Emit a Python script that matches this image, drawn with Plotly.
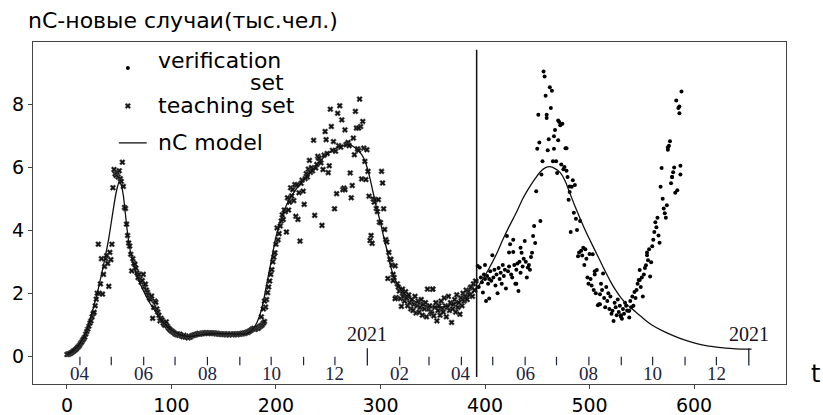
import plotly.graph_objects as go

# ---------------- data ----------------
# teaching set: one value per day, t = 0 .. 391
teach_y = [
    0.05, 0.06, 0.07, 0.08, 0.1, 0.12, 0.15, 0.17, 0.2, 0.23,
    0.27, 0.3, 0.34, 0.4, 0.44, 0.5, 0.55, 0.6, 0.7, 0.78,
    0.86, 0.95, 1.05, 1.12, 1.25, 1.35, 1.39, 1.6, 1.81, 2.0,
    3.56, 2.0, 2.3, 3.1, 1.97, 2.6, 2.85, 3.1, 3.2, 2.95,
    2.22, 3.3, 3.07, 3.56, 5.36, 5.94, 5.8, 5.75, 5.85, 5.7,
    5.9, 5.65, 5.56, 6.17, 5.4, 4.73, 4.7, 4.2, 3.84, 3.6,
    3.5, 3.24, 2.71, 3.1, 2.95, 2.92, 2.8, 2.65, 2.5, 2.6,
    2.45, 2.35, 2.4, 2.6, 2.2, 2.29, 2.1, 2.03, 1.95, 1.85,
    1.8, 1.91, 1.2, 1.55, 1.75, 1.71, 1.5, 1.4, 1.3, 1.12,
    1.2, 1.15, 1.05, 1.0, 0.98, 1.09, 0.95, 0.9, 0.86, 0.82,
    0.8, 0.78, 0.75, 0.72, 0.7, 0.68, 0.7, 0.66, 0.7, 0.65,
    0.64, 0.62, 0.66, 0.6, 0.63, 0.6, 0.58, 0.62, 0.6, 0.64,
    0.65, 0.66, 0.68, 0.67, 0.7, 0.7, 0.72, 0.7, 0.71, 0.72,
    0.72, 0.73, 0.72, 0.74, 0.73, 0.72, 0.74, 0.73, 0.72, 0.73,
    0.72, 0.73, 0.72, 0.71, 0.72, 0.7, 0.71, 0.7, 0.69, 0.7,
    0.69, 0.7, 0.68, 0.69, 0.7, 0.68, 0.69, 0.7, 0.68, 0.69,
    0.7, 0.69, 0.7, 0.68, 0.7, 0.71, 0.7, 0.72, 0.71, 0.73,
    0.72, 0.74, 0.76, 0.75, 0.78, 0.8, 0.82, 0.85, 0.86, 0.88,
    0.85, 0.87, 0.9, 0.88, 0.92, 0.95, 0.97, 1.0, 1.05, 1.1,
    1.56, 1.8, 2.02, 2.2, 2.39, 2.6, 2.75, 3.0, 3.15, 3.29,
    3.56, 4.08, 3.7, 3.9, 4.14, 4.3, 4.5, 4.35, 4.65, 4.6,
    3.95, 5.04, 4.65, 4.9, 5.36, 5.1, 5.3, 4.95, 5.46, 4.45,
    5.45, 4.35, 5.2, 3.66, 5.5, 5.6, 5.25, 4.83, 5.65, 5.81,
    5.7, 5.95, 6.23, 5.85, 6.0, 5.9, 6.87, 4.48, 5.99, 6.1,
    6.36, 6.3, 6.2, 6.15, 4.16, 5.94, 6.4, 7.15, 6.89, 6.45,
    5.84, 6.06, 7.86, 7.31, 6.55, 6.83, 4.69, 6.52, 5.17, 7.73,
    6.7, 7.97, 6.65, 7.52, 5.3, 5.35, 7.2, 6.73, 6.75, 6.8,
    6.7, 5.83, 5.04, 5.43, 6.94, 6.41, 7.79, 7.26, 6.6, 6.55,
    8.18, 7.31, 5.64, 7.47, 6.62, 6.2, 5.62, 6.57, 5.88, 5.09,
    3.68, 3.84, 3.59, 5.0, 4.9, 4.98, 4.7, 4.6, 4.98, 4.26,
    4.25, 5.88, 5.51, 4.69, 4.03, 3.71, 3.63, 2.47, 3.3, 3.08,
    3.08, 2.9, 2.6, 2.5, 2.87, 1.86, 2.3, 2.2, 2.07, 1.83,
    1.58, 2.0, 1.9, 1.75, 2.05, 1.85, 1.6, 1.95, 1.7, 1.5,
    1.8, 1.45, 1.65, 1.9, 1.37, 1.6, 1.75, 1.4, 1.55, 1.8,
    1.3, 1.65, 1.5, 1.7, 1.25, 2.13, 1.5, 1.6, 1.4, 1.35,
    2.13, 1.28, 1.55, 1.7, 1.12, 1.45, 1.6, 1.3, 1.75, 1.5,
    1.4, 1.85, 1.6, 1.25, 1.55, 1.9, 1.45, 1.7, 1.07, 1.5,
    1.65, 1.8, 1.4, 1.95, 1.55, 1.7, 1.33, 1.85, 1.6, 2.0,
    1.75, 1.9, 2.1, 1.8, 2.05, 1.95, 2.18, 2.2, 1.9, 2.3,
    2.1, 2.39,
]
teach_start = 0
# a few extra teaching points
teach_extra_t = [186, 188, 189, 241, 266, 279, 321, 350, 312, 314]
teach_extra_y = [1.25, 1.5, 1.75, 6.3, 5.3, 7.26, 2.13, 2.13, 2.4, 1.83]

# verification set: one value per day, t = 392 .. 588
verif_y = [
    2.39, 2.87, 2.2, 2.82, 2.5, 2.35, 2.02, 2.6, 2.45, 1.75,
    2.55, 2.3, 1.83, 2.7, 2.4, 3.21, 2.5, 2.75, 2.25, 2.6,
    2.0, 2.8, 2.45, 2.65, 2.3, 2.9, 2.55, 2.75, 2.15, 3.82,
    2.7, 2.85, 3.56, 2.6, 2.5, 3.31, 2.9, 2.3, 2.75, 2.95,
    2.07, 3.0, 2.65, 3.29, 2.85, 3.1, 3.66, 3.0, 2.5, 2.82,
    2.9, 2.75, 3.15, 3.29, 3.82, 4.14, 3.6, 5.25, 6.6, 7.68,
    6.8, 4.3, 5.78, 6.2, 9.06, 8.9, 8.29, 7.58, 6.55, 6.9,
    8.56, 7.9, 8.45, 6.2, 7.0, 7.2, 6.2, 5.83, 6.87, 7.45,
    7.35, 6.1, 7.4, 5.95, 6.02, 6.62, 5.9, 5.7, 4.98, 5.22,
    3.95, 5.39, 5.6, 4.56, 5.45, 4.37, 4.01, 3.18, 3.3, 4.3,
    3.35, 3.2, 3.45, 2.9, 3.4, 3.1, 2.5, 2.3, 3.25, 2.45,
    2.25, 3.24, 2.1, 2.7, 2.0, 2.74, 1.62, 1.65, 1.97, 2.3,
    2.1, 2.63, 1.85, 1.55, 2.2, 1.75, 2.0, 1.5, 1.9, 1.35,
    1.44, 1.12, 1.7, 1.55, 1.3, 1.8, 1.4, 1.6, 1.25, 1.19,
    1.5, 1.35, 1.7, 1.6, 1.45, 1.44, 1.23, 1.75, 1.55, 1.9,
    1.6, 2.04, 1.85, 2.1, 2.3, 2.42, 2.74, 2.2, 2.5, 1.9,
    2.6, 2.8, 2.89, 3.21, 3.05, 3.4, 2.53, 2.99, 3.5, 3.7,
    3.95, 4.26, 4.1, 4.4, 3.84, 3.61, 5.39, 5.99, 5.01, 4.7,
    4.55, 4.4, 4.8, 6.57, 6.7, 6.84, 5.5, 5.7, 5.85, 6.0,
    5.2, 8.14, 5.28, 7.9, 7.73, 6.06, 8.42,
]
verif_start = 392
verif_extra_t = [579, 586, 587, 575, 555, 548, 538, 530, 510, 505, 466, 470, 459, 478, 481, 400, 404, 430,
                 423, 427, 434]
verif_extra_y = [5.7, 7.95, 5.78, 6.65, 3.3, 2.42, 1.44, 1.3, 1.65, 2.6, 6.6, 7.5, 7.68, 6.62, 5.4, 2.9, 2.45, 2.3,
                 3.3, 3.7, 3.45]

# nC model curve
model_t = [0, 5, 10, 15, 20, 25, 30, 35, 40, 44, 47, 50, 52, 54, 56, 58, 60, 63, 66, 70,
           75, 80, 85, 90, 95, 100, 105, 110, 115, 120, 130, 140, 150, 160, 170, 175, 180,
           184, 188, 190, 192, 195, 197, 200, 204, 208, 213, 220, 226, 234, 242, 250, 258,
           265, 270, 275, 280, 284, 287, 290, 293, 296, 300, 303, 306, 309, 312, 316, 320,
           325, 332, 338, 346, 354, 362, 369, 376, 383, 392, 398, 405, 411, 417, 423, 430,
           436, 443, 448, 453, 458, 462, 467, 472, 477, 481, 486, 491, 496, 500, 505, 510,
           515, 520, 525, 530, 535, 540, 545, 550, 555, 560, 570, 580, 590, 600, 610, 620,
           630, 640, 655]
model_y = [0.05, 0.15, 0.3, 0.55, 0.95, 1.5, 2.15, 2.9, 3.75, 4.6, 5.2, 5.55, 5.45, 5.1,
           4.5, 3.9, 3.45, 3.0, 2.65, 2.3, 1.95, 1.65, 1.4, 1.15, 0.98, 0.84, 0.74, 0.66,
           0.63, 0.63, 0.68, 0.71, 0.71, 0.7, 0.7, 0.76, 0.95, 1.25, 1.75, 2.1, 2.44, 2.95,
           3.3, 3.8, 4.25, 4.65, 5.0, 5.35, 5.6, 5.9, 6.2, 6.45, 6.63, 6.72, 6.73, 6.65, 6.5,
           6.3, 6.03, 5.65, 5.2, 4.75, 4.25, 3.8, 3.4, 2.95, 2.6, 2.3, 2.1, 1.92, 1.76, 1.66,
           1.58, 1.55, 1.58, 1.65, 1.75, 1.88, 2.15, 2.45, 2.86, 3.25, 3.7, 4.12, 4.57, 5.0,
           5.4, 5.65, 5.87, 6.0, 6.03, 5.97, 5.84, 5.55, 5.2, 4.78, 4.38, 4.0, 3.72, 3.38,
           3.04, 2.7, 2.38, 2.1, 1.86, 1.67, 1.52, 1.38, 1.24, 1.1, 0.98, 0.8, 0.65, 0.52,
           0.42, 0.34, 0.29, 0.25, 0.23, 0.22]

# boundary between teaching and verification
split_t = 392

# month markers (start of month, days since t=0)
month_t = [12.4, 42.4, 73.4, 103.4, 134.4, 165.4, 195.4, 226.4, 256.4, 318.4, 346.4,
           377.4, 407.4, 438.4, 468.4, 499.4, 530.4, 560.4, 591.4, 621.4]
month_lbl = ["04", "", "06", "", "08", "", "10", "", "12", "02", "",
             "04", "", "06", "", "08", "", "10", "", "12"]
year_t = [287.4, 652.4]
year_lbl = ["2021", "2021"]

x_ticks = [0, 100, 200, 300, 400, 500, 600]
y_ticks = [0, 2, 4, 6, 8]

legend_names = ["verification", "set", "teaching set", "nC model"]

# ---------------- figure ----------------
fig = go.Figure()

verif_t = [verif_start + i for i in range(len(verif_y))]
teach_t = [teach_start + i for i in range(len(teach_y))]

VERIF_MARK = dict(symbol="circle", size=4, color="black")
TEACH_MARK = dict(symbol="x", size=5, color="#111111", line=dict(width=0.6, color="#555555"))

fig.add_trace(go.Scatter(
    x=verif_t + verif_extra_t, y=verif_y + verif_extra_y, mode="markers",
    name="verification set", marker=VERIF_MARK, showlegend=False))
fig.add_trace(go.Scatter(
    x=teach_t + teach_extra_t, y=teach_y + teach_extra_y, mode="markers",
    name="teaching set", marker=TEACH_MARK, showlegend=False))
fig.add_trace(go.Scatter(
    x=model_t, y=model_y, mode="lines", name="nC model", showlegend=False,
    line=dict(color="#111111", width=1.3, shape="spline", smoothing=0.6)))

# month tick marks
fig.add_trace(go.Scatter(
    x=month_t, y=[-0.16] * len(month_t), mode="markers", showlegend=False,
    hoverinfo="skip",
    marker=dict(symbol="line-ns", size=6, line=dict(width=1.2, color="#1c2440"))))
# year tick marks
for yt in year_t:
    fig.add_shape(type="line", x0=yt, x1=yt, y0=-0.3, y1=0.25,
                  line=dict(color="#1c2440", width=1.3))
# split line
fig.add_shape(type="line", x0=split_t, x1=split_t, y0=-0.67, y1=9.75,
              line=dict(color="#111111", width=1.5))

for mt, ml in zip(month_t, month_lbl):
    if ml:
        fig.add_annotation(x=mt, y=-0.55, text=ml, showarrow=False,
                           font=dict(family="Liberation Serif", size=19, color="#1c2440"))
for yt, yl in zip(year_t, year_lbl):
    fig.add_annotation(x=yt, y=0.7, text=yl, showarrow=False,
                       font=dict(family="Liberation Serif", size=20, color="#111122"))

# ---- hand-made legend (axes-fraction overlay) ----
fig.add_trace(go.Scatter(x=[0.126], y=[0.924], mode="markers", marker=VERIF_MARK,
                         xaxis="x2", yaxis="y2", showlegend=False, hoverinfo="skip"))
fig.add_trace(go.Scatter(x=[0.126], y=[0.813], mode="markers", marker=TEACH_MARK,
                         xaxis="x2", yaxis="y2", showlegend=False, hoverinfo="skip"))
fig.add_shape(type="line", xref="paper", yref="paper", x0=0.114, x1=0.151, y0=0.705, y1=0.705,
              line=dict(color="#111111", width=1.3))
LEG_FONT = dict(family="DejaVu Sans", size=22, color="black")
for (lx, ly), txt in zip([(0.164, 0.947), (0.286, 0.883), (0.164, 0.813), (0.164, 0.705)],
                         legend_names):
    fig.add_annotation(xref="paper", yref="paper", x=lx, y=ly, xanchor="left",
                       yanchor="middle", text=txt, showarrow=False, font=LEG_FONT)

fig.add_annotation(xref="paper", yref="paper", x=-0.009, y=1.105, xanchor="left",
                   yanchor="top", text="nC-новые случаи(тыс.чел.)", showarrow=False,
                   font=dict(family="DejaVu Sans", size=22, color="black"))
fig.add_annotation(xref="paper", yref="paper", x=1.039, y=0.03, xanchor="center",
                   yanchor="middle", text="t", showarrow=False,
                   font=dict(family="DejaVu Sans", size=24, color="black"))

axis_common = dict(showgrid=False, zeroline=False, showline=True, mirror=True,
                   linecolor="#444444", linewidth=1.3, ticks="outside", ticklen=4,
                   tickcolor="#444444", automargin=False,
                   tickfont=dict(family="DejaVu Sans", size=19, color="black"))
fig.update_xaxes(range=[-32.5, 688], tickvals=x_ticks, **axis_common)
fig.update_yaxes(range=[-0.89, 10.0], tickvals=y_ticks, **axis_common)

fig.update_layout(
    width=823, height=415,
    margin=dict(l=33, r=37, t=42, b=31, autoexpand=False),
    paper_bgcolor="white", plot_bgcolor="white",
    font=dict(family="DejaVu Sans", color="black"),
    showlegend=False,
    xaxis2=dict(overlaying="x", range=[0, 1], visible=False),
    yaxis2=dict(overlaying="y", range=[0, 1], visible=False),
)

fig.write_html("out.html", post_script="document.body.style.margin='0px';",
               config={"displayModeBar": False})
